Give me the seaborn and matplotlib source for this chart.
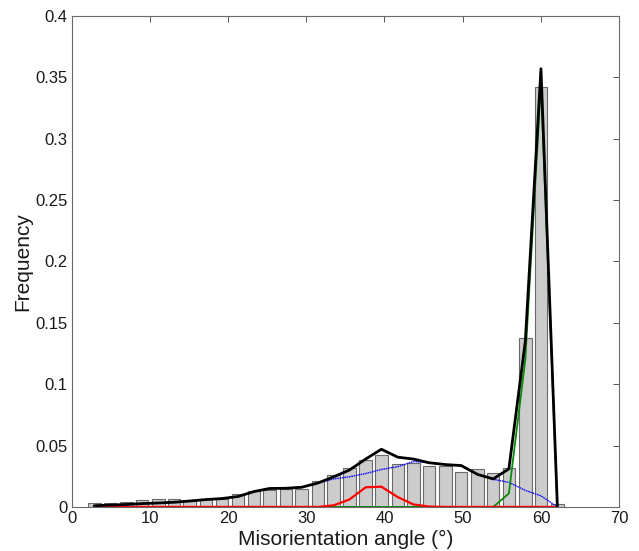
import matplotlib
matplotlib.use("Agg")

import matplotlib.pyplot as plt
import seaborn as sns
from matplotlib.ticker import FuncFormatter

# Histogram bin centres (degrees) and bar heights
angles = [2.9, 4.9, 7.0, 9.0, 11.1, 13.1, 15.1, 17.2, 19.2, 21.3,
          23.3, 25.3, 27.4, 29.4, 31.5, 33.5, 35.5, 37.6, 39.6, 41.7,
          43.7, 45.7, 47.8, 49.8, 51.9, 53.9, 55.9, 58.0, 60.0, 62.1]
freq = [0.003, 0.0033, 0.004, 0.0055, 0.0062, 0.0062, 0.0057, 0.0062, 0.0065, 0.0103,
        0.013, 0.014, 0.0142, 0.0142, 0.0215, 0.026, 0.032, 0.038, 0.042, 0.035,
        0.0356, 0.0337, 0.0337, 0.0288, 0.031, 0.0274, 0.0318, 0.138, 0.342, 0.002]

# Fitted components and their sum
total = [0.001, 0.0015, 0.002, 0.0027, 0.0032, 0.0038, 0.0048, 0.006, 0.0068, 0.0085,
         0.0125, 0.015, 0.0152, 0.016, 0.0195, 0.0245, 0.030, 0.039, 0.047, 0.0405,
         0.039, 0.036, 0.0345, 0.0337, 0.0265, 0.0228, 0.031, 0.135, 0.357, 0.0]
random_part = [0.001, 0.0015, 0.002, 0.0027, 0.0032, 0.0038, 0.0048, 0.006, 0.0068, 0.0085,
               0.0125, 0.015, 0.0152, 0.016, 0.0195, 0.0228, 0.0245, 0.0272, 0.0305, 0.0328,
               0.037, 0.036, 0.0345, 0.0337, 0.0265, 0.0225, 0.020, 0.0135, 0.009, 0.0]
peak_40 = [0, 0, 0, 0, 0, 0, 0, 0, 0, 0,
           0, 0, 0, 0, 0, 0.0013, 0.006, 0.016, 0.0165, 0.008,
           0.002, 0.0003, 0, 0, 0, 0, 0, 0, 0, 0]
peak_60 = [0, 0, 0, 0, 0, 0, 0, 0, 0, 0,
           0, 0, 0, 0, 0, 0, 0, 0, 0, 0,
           0, 0, 0, 0, 0, 0, 0.011, 0.12, 0.345, 0.0]

sns.set_style("white")
plt.rcParams["font.family"] = ["Liberation Sans", "DejaVu Sans"]

fig = plt.figure(figsize=(6.39, 5.51), dpi=100)
ax = fig.add_axes([0.112, 0.080, 0.857, 0.891])

sns.barplot(x=angles, y=freq, native_scale=True, color="#cccccc",
            saturation=1, edgecolor="#6a6a6a", linewidth=0.8, width=0.8, ax=ax)

sns.lineplot(x=angles, y=random_part, color="#1010ff", lw=1.0,
             linestyle=(0, (1.2, 0.5)), ax=ax)
sns.lineplot(x=angles, y=peak_60, color="#0a8a0a", lw=1.3, ax=ax)
sns.lineplot(x=angles, y=peak_40, color="#ff0000", lw=1.6, ax=ax)
sns.lineplot(x=angles, y=total, color="black", lw=2.0, ax=ax)

ax.set_xlim(0, 70)
ax.set_ylim(0, 0.4)
ax.set_xticks(range(0, 71, 10))
ax.set_yticks([i * 0.05 for i in range(9)])
ax.yaxis.set_major_formatter(FuncFormatter(lambda v, p: "%g" % round(v, 2)))

ax.tick_params(direction="in", top=True, right=True, length=4, width=0.7,
               color="#555555", labelsize=12, labelcolor="#1a1a1a", pad=3)
for s in ax.spines.values():
    s.set_color("#6a6a6a")
    s.set_linewidth(0.8)

ax.set_xlabel("Misorientation angle (°)", fontsize=15, color="#1a1a1a", labelpad=3)
ax.set_ylabel("Frequency", fontsize=15, color="#1a1a1a", labelpad=2)

fig.savefig("out.png", dpi=100)
